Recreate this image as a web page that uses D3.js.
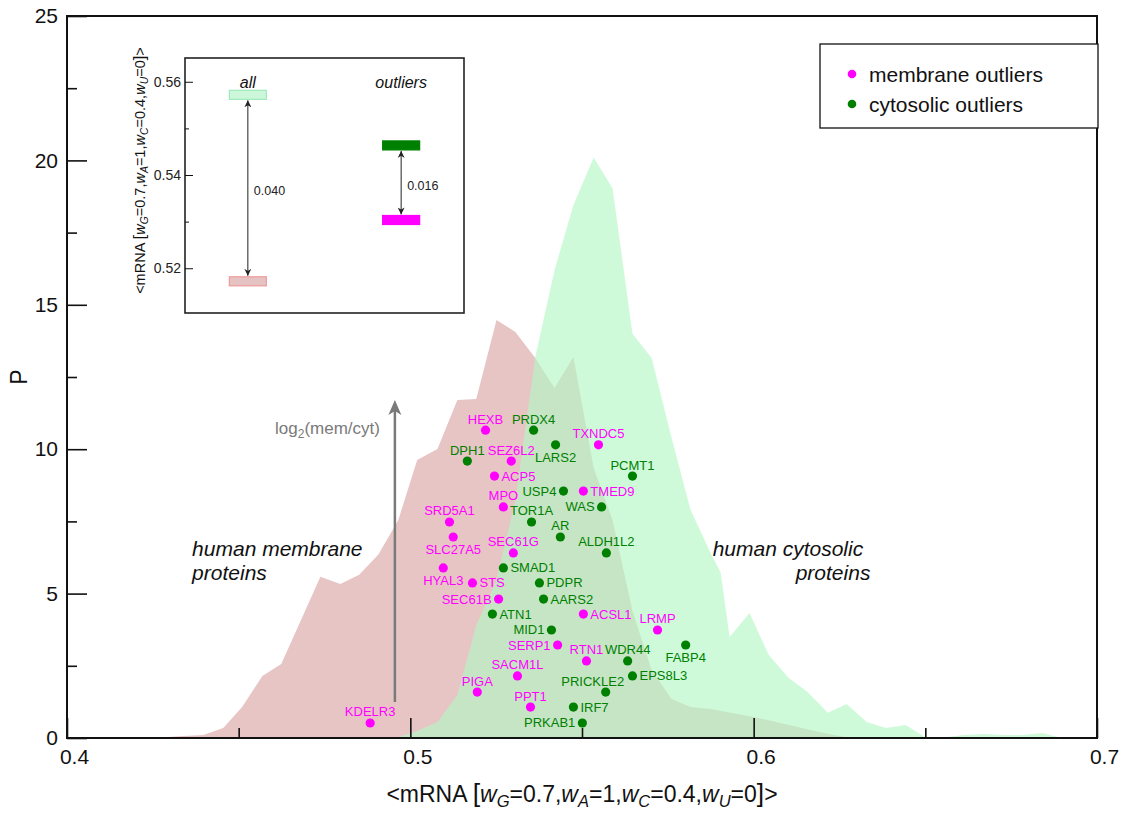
<!DOCTYPE html>
<html>
<head>
<meta charset="utf-8">
<script src="https://cdn.jsdelivr.net/npm/d3@7"></script>
<style>
  html, body { margin: 0; padding: 0; background: #fff; }
  svg { display: block; font-family: "Liberation Sans", Arial, sans-serif; }
</style>
</head>
<body>
<svg id="chart" width="1122" height="814"></svg>
<script>
// ---- distributions: <mRNA> value vs. probability density ----
const membraneX = [0.425, 0.4338, 0.4397, 0.4455, 0.4510, 0.4569, 0.4624, 0.4679, 0.4738, 0.4796,
  0.4851, 0.4907, 0.4965, 0.5020, 0.5079, 0.5137, 0.5192, 0.5251, 0.5306, 0.5364,
  0.5420, 0.5475, 0.5534, 0.5589, 0.5647, 0.5703, 0.5761, 0.5816, 0.5875, 0.6000,
  0.6204, 0.6283];
const membraneP = [0.0, 0.07, 0.10, 0.35, 1.07, 2.15, 2.56, 4.02, 5.58, 5.33,
  5.65, 6.35, 7.55, 9.63, 10.01, 11.70, 11.74, 14.47, 14.06, 13.16,
  12.12, 13.19, 9.35, 7.55, 4.40, 2.35, 1.35, 1.07, 1.00, 0.73,
  0.17, 0.0];

const cytosolX = [0.490, 0.4965, 0.5020, 0.5079, 0.5137, 0.5192, 0.5251, 0.5306, 0.5364, 0.5420,
  0.5475, 0.5534, 0.5589, 0.5647, 0.5703, 0.5761, 0.5816, 0.5875, 0.5904, 0.5930,
  0.5988, 0.6044, 0.6102, 0.6157, 0.6216, 0.6271, 0.6329, 0.6385, 0.6443, 0.6499,
  0.6557, 0.6612, 0.6671, 0.6726, 0.6784, 0.6840, 0.6898];
const cytosolP = [0.0, 0.03, 0.24, 0.55, 1.49, 3.90, 5.47, 8.24, 13.20, 16.20,
  18.46, 20.10, 19.04, 14.00, 13.16, 10.39, 7.90, 6.40, 5.72, 3.50,
  4.33, 2.87, 2.08, 1.59, 0.87, 1.18, 0.55, 0.35, 0.45, 0.03,
  0.03, 0.10, 0.14, 0.10, 0.10, 0.17, 0.0];

// ---- outlier genes ----
const membraneGenes = ["HEXB", "TXNDC5", "SEZ6L2", "ACP5", "TMED9", "MPO", "SRD5A1", "SLC27A5", "SEC61G", "HYAL3",
  "STS", "SEC61B", "ACSL1", "LRMP", "SERP1", "RTN1", "SACM1L", "PIGA", "PPT1", "KDELR3"];
const membraneGeneX = [0.5219, 0.5548, 0.5294, 0.5245, 0.5504, 0.5271, 0.5114, 0.5125, 0.5300, 0.5096,
  0.5181, 0.5257, 0.5504, 0.5720, 0.5429, 0.5513, 0.5312, 0.5195, 0.5350, 0.4883];
const membraneGeneP = [10.66, 10.15, 9.59, 9.07, 8.55, 8.00, 7.48, 6.96, 6.41, 5.89,
  5.37, 4.81, 4.29, 3.74, 3.22, 2.67, 2.15, 1.59, 1.07, 0.52];
const membraneLabelSide = ["n", "n", "n", "e", "e", "n", "n", "s", "n", "s",
  "e", "w", "e", "n", "w", "n", "n", "n", "n", "n"];

const cytosolGenes = ["PRDX4", "LARS2", "DPH1", "PCMT1", "USP4", "WAS", "TOR1A", "AR", "ALDH1L2", "SMAD1",
  "PDPR", "AARS2", "ATN1", "MID1", "FABP4", "WDR44", "EPS8L3", "PRICKLE2", "IRF7", "PRKAB1"];
const cytosolGeneX = [0.5359, 0.5423, 0.5166, 0.5647, 0.5446, 0.5557, 0.5353, 0.5437, 0.5571, 0.5271,
  0.5376, 0.5388, 0.5239, 0.5411, 0.5802, 0.5633, 0.5647, 0.5569, 0.5475, 0.5501];
const cytosolGeneP = [10.66, 10.15, 9.59, 9.07, 8.55, 8.00, 7.48, 6.96, 6.41, 5.89,
  5.37, 4.81, 4.29, 3.74, 3.22, 2.67, 2.15, 1.59, 1.07, 0.52];
const cytosolLabelSide = ["n", "s", "n", "n", "w", "w", "n", "n", "n", "e",
  "e", "e", "e", "w", "s", "n", "e", "nw", "e", "w"];

// ---- axis ticks ----
const xMajorTicks = [0.4, 0.5, 0.6, 0.7];
const xMinorTicks = [0.45, 0.55, 0.65];
const yMajorTicks = [0, 5, 10, 15, 20, 25];
const yMinorTicks = [2.5, 7.5, 12.5, 17.5, 22.5];

// ---- inset: mean <mRNA> of membrane vs cytosolic sets ----
const insetGroups = ["all", "outliers"];
const insetCytosolMean = [0.5572, 0.54635];
const insetMembraneMean = [0.5172, 0.53035];
const insetMajorTicks = [0.52, 0.54, 0.56];
const insetMinorTicks = [0.53, 0.55];

// ---- legend ----
const legendLabels = ["membrane outliers", "cytosolic outliers"];

const MAGENTA = "#ff00ff", GREEN = "#008000";
const PINK_FILL = "#e8c5c5", MINT_FILL = "rgb(177,247,196)";

const svg = d3.select("#chart");
const plot = { left: 67, right: 1097, top: 16, bottom: 738 };

const x = d3.scaleLinear().domain([0.4, 0.7]).range([plot.left, plot.right]);
const y = d3.scaleLinear().domain([0, 25]).range([plot.bottom, plot.top]);

// ---- filled distributions ----
const area = d3.area().x(d => x(d[0])).y0(y(0)).y1(d => y(d[1]));
svg.append("path")
  .datum(d3.zip(membraneX, membraneP))
  .attr("d", area).attr("fill", PINK_FILL);
svg.append("path")
  .datum(d3.zip(cytosolX, cytosolP))
  .attr("d", area).attr("fill", MINT_FILL).attr("fill-opacity", 0.63);

// ---- axes (ticks point inward) ----
const yAxisG = svg.append("g").attr("transform", `translate(${plot.left},0)`)
  .call(d3.axisLeft(y).tickValues(yMajorTicks).tickSize(-20).tickPadding(9).tickFormat(d3.format("d")));
svg.append("g").attr("transform", `translate(${plot.left},0)`)
  .call(d3.axisLeft(y).tickValues(yMinorTicks).tickSize(-10).tickFormat(""));
const xAxisG = svg.append("g").attr("transform", `translate(0,${plot.bottom})`)
  .call(d3.axisBottom(x).tickValues(xMajorTicks).tickSize(-20).tickPadding(11).tickFormat(d3.format(".1f")));
svg.append("g").attr("transform", `translate(0,${plot.bottom})`)
  .call(d3.axisBottom(x).tickValues(xMinorTicks).tickSize(-10).tickFormat(""));
svg.selectAll(".domain").remove();
svg.selectAll(".tick line").attr("stroke", "#111").attr("stroke-width", 1.6);
yAxisG.selectAll("text").attr("font-size", 21).attr("fill", "#111").attr("font-family", "Liberation Sans, Arial, sans-serif");
xAxisG.selectAll("text").attr("font-size", 21).attr("fill", "#111").attr("dx", 7).attr("font-family", "Liberation Sans, Arial, sans-serif");

// frame
svg.append("rect")
  .attr("x", plot.left).attr("y", plot.top)
  .attr("width", plot.right - plot.left).attr("height", plot.bottom - plot.top)
  .attr("fill", "none").attr("stroke", "#111").attr("stroke-width", 2);

// axis titles
svg.append("text")
  .attr("transform", `translate(27,${(plot.top + plot.bottom) / 2}) rotate(-90)`)
  .attr("text-anchor", "middle").attr("font-size", 23).attr("fill", "#111").text("P");

function weightTitle(sel, size) {
  const sub = size * 0.72, shift = size * 0.22;
  sel.append("tspan").text("<mRNA ");
  sel.append("tspan").attr("font-size", size * 1.15).text("[");
  [["G", "=0.7,"], ["A", "=1,"], ["C", "=0.4,"], ["U", "=0"]].forEach(([s, rest]) => {
    sel.append("tspan").attr("font-style", "italic").text("w");
    sel.append("tspan").attr("font-style", "italic").attr("font-size", sub).attr("dy", shift).text(s);
    sel.append("tspan").attr("dy", -shift).text(rest);
  });
  sel.append("tspan").attr("font-size", size * 1.15).text("]");
  sel.append("tspan").text(">");
}
const xTitle = svg.append("text")
  .attr("x", (plot.left + plot.right) / 2).attr("y", 802)
  .attr("text-anchor", "middle").attr("font-size", 23).attr("fill", "#111");
weightTitle(xTitle, 23);

// ---- log2 arrow annotation ----
const arrowX = x(0.4955);
svg.append("line")
  .attr("x1", arrowX).attr("x2", arrowX)
  .attr("y1", y(1.25)).attr("y2", y(11.35))
  .attr("stroke", "#7a7a7a").attr("stroke-width", 2.5);
svg.append("path")
  .attr("d", `M${arrowX},${y(11.7)} L${arrowX + 6.5},${y(11.7) + 15} L${arrowX},${y(11.7) + 11} L${arrowX - 6.5},${y(11.7) + 15} Z`)
  .attr("fill", "#7a7a7a");
const logText = svg.append("text")
  .attr("x", x(0.4606)).attr("y", y(10.53))
  .attr("font-size", 17).attr("fill", "#7a7a7a");
logText.append("tspan").text("log");
logText.append("tspan").attr("font-size", 12).attr("dy", 4).text("2");
logText.append("tspan").attr("dy", -4).text("(mem/cyt)");

// ---- distribution captions ----
const captions = [
  { t: "human membrane", v: 0.43644, p: 6.30 },
  { t: "proteins", v: 0.43644, p: 5.47 },
  { t: "human cytosolic", v: 0.58805, p: 6.30 },
  { t: "proteins", v: 0.61224, p: 5.47 }
];
svg.selectAll("text.caption").data(captions).join("text")
  .attr("class", "caption")
  .attr("x", d => x(d.v)).attr("y", d => y(d.p))
  .attr("font-size", 21).attr("font-style", "italic").attr("fill", "#111")
  .text(d => d.t);

// ---- outlier points with labels ----
function drawGenes(names, xs, ps, sides, color) {
  const data = names.map((n, i) => ({ n, v: xs[i], p: ps[i], s: sides[i] }));
  const g = svg.append("g");
  g.selectAll("circle").data(data).join("circle")
    .attr("cx", d => x(d.v)).attr("cy", d => y(d.p)).attr("r", 4.6).attr("fill", color);
  g.selectAll("text").data(data).join("text")
    .attr("font-size", 13).attr("fill", color)
    .attr("x", d => {
      const cx = x(d.v);
      if (d.s === "e") return cx + 7;
      if (d.s === "w") return cx - 7;
      if (d.s === "nw") return cx - 13;
      return cx;
    })
    .attr("y", d => {
      const cy = y(d.p);
      if (d.s === "n" || d.s === "nw") return cy - 6.5;
      if (d.s === "s") return cy + 17;
      return cy + 4.5;
    })
    .attr("text-anchor", d => d.s === "e" ? "start" : d.s === "w" ? "end" : "middle")
    .text(d => d.n);
}
drawGenes(membraneGenes, membraneGeneX, membraneGeneP, membraneLabelSide, MAGENTA);
drawGenes(cytosolGenes, cytosolGeneX, cytosolGeneP, cytosolLabelSide, GREEN);

// ---- legend ----
const legend = svg.append("g").attr("transform", "translate(820,44)");
legend.append("rect").attr("width", 278).attr("height", 84)
  .attr("fill", "#fff").attr("stroke", "#111").attr("stroke-width", 1.3);
legendLabels.forEach((t, i) => {
  const ly = 30 + i * 30;
  legend.append("circle").attr("cx", 32).attr("cy", ly).attr("r", 4.3).attr("fill", i ? GREEN : MAGENTA);
  legend.append("text").attr("x", 49).attr("y", ly + 7.5).attr("font-size", 21).attr("fill", "#111").text(t);
});

// ---- inset ----
const inset = { left: 185, right: 464, top: 58, bottom: 313 };
const yIn = d3.scaleLinear().domain([0.5104, 0.5651]).range([inset.bottom, inset.top]);
const xIn = d3.scalePoint().domain(insetGroups).range([inset.left, inset.right]).padding(0.41);

svg.append("rect")
  .attr("x", inset.left).attr("y", inset.top)
  .attr("width", inset.right - inset.left).attr("height", inset.bottom - inset.top)
  .attr("fill", "#fff").attr("stroke", "#222").attr("stroke-width", 1.6);

const inAxis = svg.append("g").attr("transform", `translate(${inset.left},0)`)
  .call(d3.axisLeft(yIn).tickValues(insetMajorTicks).tickSize(-8).tickPadding(4).tickFormat(d3.format(".2f")));
svg.append("g").attr("transform", `translate(${inset.left},0)`)
  .call(d3.axisLeft(yIn).tickValues(insetMinorTicks).tickSize(-4).tickFormat(""))
  .select(".domain").remove();
inAxis.select(".domain").remove();
svg.selectAll(".tick line").attr("stroke", "#111");
inAxis.selectAll("text").attr("font-size", 14).attr("fill", "#222").attr("font-family", "Liberation Sans, Arial, sans-serif");

const inTitle = svg.append("text")
  .attr("transform", `translate(145,${(inset.top + inset.bottom) / 2 - 15}) rotate(-90)`)
  .attr("text-anchor", "middle").attr("font-size", 14.5).attr("fill", "#111");
weightTitle(inTitle, 14.5);

svg.selectAll("text.grp").data(insetGroups).join("text")
  .attr("class", "grp")
  .attr("x", d => xIn(d)).attr("y", 88)
  .attr("text-anchor", "middle").attr("font-size", 16).attr("font-style", "italic").attr("fill", "#111")
  .text(d => d);

const defs = svg.append("defs");
defs.append("marker").attr("id", "tip").attr("viewBox", "0 0 10 10")
  .attr("refX", 10).attr("refY", 5).attr("markerWidth", 7).attr("markerHeight", 7)
  .attr("markerUnits", "userSpaceOnUse").attr("orient", "auto-start-reverse")
  .append("path").attr("d", "M0,0 L10,5 L0,10 L3,5 Z").attr("fill", "#222");

const barW = 37, barH = 9;
insetGroups.forEach((g, i) => {
  const cx = xIn(g);
  const yc = yIn(insetCytosolMean[i]), ym = yIn(insetMembraneMean[i]);
  const outl = i === 1;
  svg.append("rect")
    .attr("x", cx - barW / 2).attr("y", yc - barH / 2).attr("width", barW).attr("height", barH)
    .attr("fill", outl ? GREEN : "#cdf7da").attr("stroke", outl ? GREEN : "#9eeab8").attr("stroke-width", 1.2);
  svg.append("rect")
    .attr("x", cx - barW / 2).attr("y", ym - barH / 2).attr("width", barW).attr("height", barH)
    .attr("fill", outl ? MAGENTA : "#e6c3c3").attr("stroke", outl ? MAGENTA : "#f09a9a").attr("stroke-width", 1.2);
  svg.append("line")
    .attr("x1", cx).attr("x2", cx)
    .attr("y1", yc + barH / 2 + 1).attr("y2", ym - barH / 2 - 1)
    .attr("stroke", "#222").attr("stroke-width", 1)
    .attr("marker-start", "url(#tip)").attr("marker-end", "url(#tip)");
  svg.append("text")
    .attr("x", cx + 6).attr("y", (yc + ym) / 2 + 7)
    .attr("font-size", 12.5).attr("fill", "#222")
    .text(d3.format(".3f")(insetCytosolMean[i] - insetMembraneMean[i]));
});
</script>
</body>
</html>
